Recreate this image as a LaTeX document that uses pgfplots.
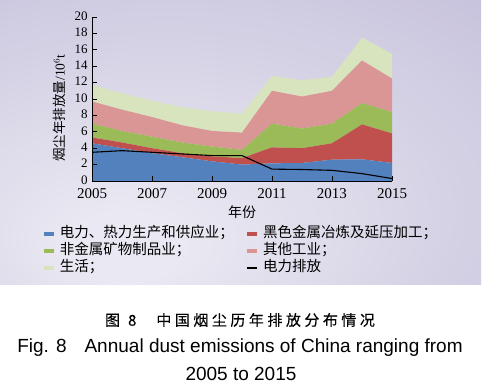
\documentclass[border=0pt]{standalone}
\usepackage{fontspec}
\setmainfont{Liberation Serif}
\newfontfamily\cjk{Noto Sans CJK SC}
\newfontfamily\cjkb[FakeBold=0.3]{Noto Sans CJK SC}
\newfontfamily\arial{Liberation Sans}
\usepackage{pgfplots}
\pgfplotsset{compat=1.18}
\pgfplotsset{lineleg/.style={legend image code/.code={\draw[##1] (0pt,0pt) -- (10pt,0pt);}}}
\definecolor{cBlue}{RGB}{82,129,189}
\definecolor{cRed}{RGB}{192,80,77}
\definecolor{cGreen}{RGB}{155,187,89}
\definecolor{cPink}{RGB}{217,150,148}
\definecolor{cLight}{RGB}{215,228,189}
\definecolor{bgIn}{RGB}{234,232,242}
\definecolor{bgOut}{RGB}{186,180,212}
\pgfdeclareradialshading{bgshade}{\pgfpoint{-13bp}{-20bp}}{color(0bp)=(bgIn); color(6bp)=(bgIn); color(62bp)=(bgOut); color(80bp)=(bgOut)}
\begin{document}
\begin{tikzpicture}[x=1pt,y=1pt]
\fill[white] (0,0) rectangle (482,-390);
\shade[shading=bgshade] (0,0) rectangle (481,-284);
\begin{axis}[
  at={(92pt,-181pt)}, anchor=south west,
  scale only axis, width=300pt, height=164pt,
  xmin=2005, xmax=2015, ymin=0, ymax=20,
  axis on top,
  axis x line*=bottom, axis y line*=left,
  axis line style={black, line width=0.8pt},
  tick align=inside, major tick length=5pt,
  tick style={black, line width=0.8pt},
  xtick={2005,2007,...,2015},
  ytick={0,2,...,20},
  /pgf/number format/1000 sep={},
  /pgf/number format/assume math mode=true,
  x tick label style={font=\fontsize{15}{15}\selectfont, inner sep=0.5pt, yshift=-6.5pt},
  y tick label style={font=\fontsize{13}{13}\selectfont, inner sep=0.5pt, xshift=-3.8pt, yshift=1pt},
  xlabel={\cjk 年份},
  x label style={font=\fontsize{14}{14}\selectfont, at={(axis description cs:0.5,-0.189)}, anchor=center},
  ylabel={\cjk 烟尘年排放量\rmfamily/10$^6$t},
  y label style={font=\fontsize{13.5}{13.5}\selectfont, at={(axis description cs:-0.108,0.445)}, anchor=center},
  stack plots=y,
  legend image code/.code={\fill[#1] (0pt,-2.2pt) rectangle (10pt,2.2pt);},
  legend columns=2,
  legend cell align=left,
  legend style={at={(axis description cs:-0.16,-0.28)}, anchor=north west, draw=none, fill=none, inner sep=0pt, outer sep=0pt,
    nodes={inner sep=0pt, font=\cjk\fontsize{14.5}{14.5}\selectfont, text height=11pt, text depth=3pt},
    row sep=3pt,
    /tikz/every even column/.append style={column sep=12pt},
    /tikz/every odd column/.append style={column sep=6pt}},
]
\addplot[fill=cBlue, draw=none] coordinates {(2005,4.6) (2006,4.0) (2007,3.4) (2008,2.9) (2009,2.4) (2010,2.0) (2011,2.15) (2012,2.2) (2013,2.6) (2014,2.65) (2015,2.2)} \closedcycle;
\addlegendentry{电力、热力生产和供应业；}
\addplot[fill=cRed, draw=none] coordinates {(2005,0.7) (2006,0.7) (2007,0.6) (2008,0.5) (2009,0.6) (2010,0.8) (2011,1.95) (2012,1.8) (2013,2.0) (2014,4.25) (2015,3.6)} \closedcycle;
\addlegendentry{黑色金属冶炼及延压加工；}
\addplot[fill=cGreen, draw=none] coordinates {(2005,1.7) (2006,1.4) (2007,1.4) (2008,1.3) (2009,1.2) (2010,1.0) (2011,2.9) (2012,2.4) (2013,2.4) (2014,2.6) (2015,2.6)} \closedcycle;
\addlegendentry{非金属矿物制品业；}
\addplot[fill=cPink, draw=none] coordinates {(2005,2.7) (2006,2.6) (2007,2.4) (2008,2.1) (2009,1.9) (2010,2.1) (2011,4.0) (2012,3.9) (2013,4.0) (2014,5.2) (2015,4.1)} \closedcycle;
\addlegendentry{其他工业；}
\addplot[fill=cLight, draw=none] coordinates {(2005,2.0) (2006,2.0) (2007,2.0) (2008,2.2) (2009,2.4) (2010,2.3) (2011,1.8) (2012,2.0) (2013,1.7) (2014,2.8) (2015,3.0)} \closedcycle;
\addlegendentry{生活；}
\addlegendimage{black, line width=1.2pt, lineleg}
\addlegendentry{电力排放}
\end{axis}
\begin{axis}[
  at={(92pt,-181pt)}, anchor=south west,
  scale only axis, width=300pt, height=164pt,
  xmin=2005, xmax=2015, ymin=0, ymax=20,
  hide axis]
\addplot[black, line width=1.1pt] coordinates {(2005,3.5) (2006,3.7) (2007,3.5) (2008,3.3) (2009,3.1) (2010,3.1) (2011,1.45) (2012,1.4) (2013,1.3) (2014,0.9) (2015,0.3)};
\end{axis}
\node[font=\cjkb\fontsize{15}{15}\selectfont] at (240,-320) {图\kern8pt 8\kern20pt 中\kern3.5pt 国\kern3.5pt 烟\kern3.5pt 尘\kern3.5pt 历\kern3.5pt 年\kern3.5pt 排\kern3.5pt 放\kern3.5pt 分\kern3.5pt 布\kern3.5pt 情\kern3.5pt 况};
\node[font=\arial\fontsize{19}{19}\selectfont] at (240,-348) {Fig. 8\hspace{18pt}Annual dust emissions of China ranging from};
\node[font=\arial\fontsize{19}{19}\selectfont] at (241,-374) {2005 to 2015};
\end{tikzpicture}
\end{document}
